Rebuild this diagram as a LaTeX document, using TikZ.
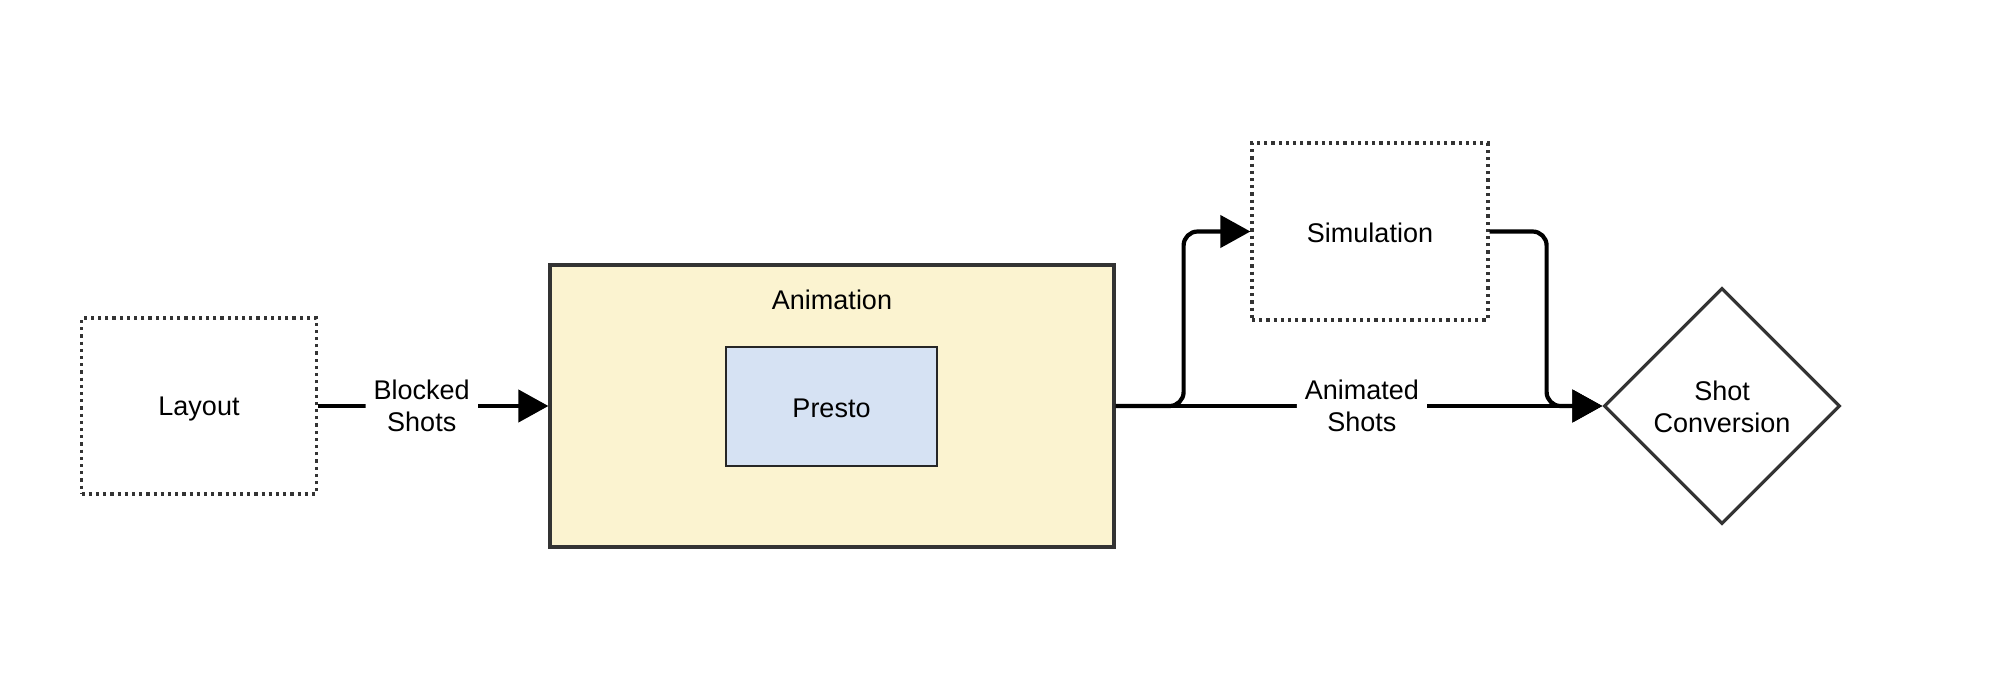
\documentclass[tikz,border=0pt]{standalone}
\usepackage{fontspec}
\setmainfont{Liberation Sans}
\usetikzlibrary{shapes.geometric,arrows.meta}
\definecolor{edgegray}{HTML}{333333}
\definecolor{animfill}{HTML}{FBF3D0}
\definecolor{prestofill}{HTML}{D6E2F3}
\begin{document}
\begin{tikzpicture}[x=0.5pt,y=-0.5pt,
  every node/.style={font=\fontsize{13.5pt}{16pt}\selectfont, align=center, text=black},
  dotbox/.style={draw=edgegray, line width=1.6pt, dash pattern=on 1.6pt off 2pt, rectangle, inner sep=0pt},
  conn/.style={draw=black, line width=2.1pt, -{Triangle[length=15pt,width=16pt]}, rounded corners=7pt},
  lbl/.style={fill=white, inner xsep=4pt, inner ysep=1pt}
]
\useasboundingbox (0,0) rectangle (2007,696);
\node[dotbox, minimum width=117.5pt, minimum height=88pt] (layout) at (199,406) {};
\node (layoutlbl) at (199,409) {Layout};
\node[draw=edgegray, line width=1.6pt, fill=animfill, minimum width=282pt, minimum height=141pt, inner sep=0pt] (anim) at (832,406) {};
\node (animlbl) at (832,300) {Animation};
\node[draw=black!85, line width=0.9pt, fill=prestofill, minimum width=105.5pt, minimum height=59.5pt, inner sep=0pt] (presto) at (831.5,406.5) {};
\node (prestolbl) at (831.5,408) {Presto};
\node[dotbox, minimum width=118pt, minimum height=88.5pt] (sim) at (1370,231.5) {};
\node (simlbl) at (1370,233) {Simulation};
\node[diamond, draw=edgegray, line width=1.6pt, aspect=1, minimum width=118pt, minimum height=118pt, inner sep=0pt] (conv) at (1722,406) {};
\node (convlbl) at (1722,407) {Shot\\Conversion};

\draw[conn] (layout.east) -- node[lbl, pos=0.45] {Blocked\\Shots} (anim.west);
\draw[conn] (anim.east) -- node[lbl, pos=0.506] {Animated\\Shots} (conv.west);
\draw[conn] (anim.east) -- ++(68,0) |- (sim.west);
\draw[conn] (sim.east) -- ++(57,0) |- (conv.west);
\end{tikzpicture}
\end{document}
